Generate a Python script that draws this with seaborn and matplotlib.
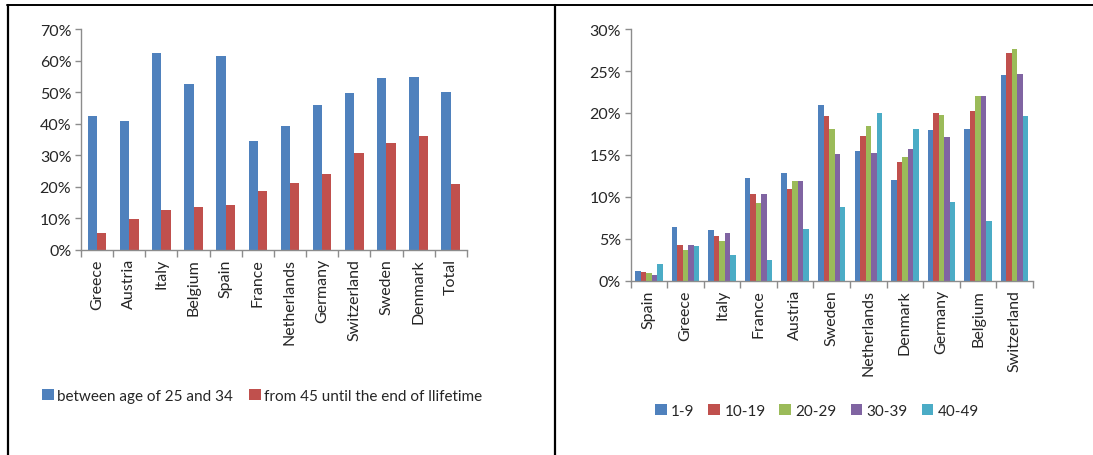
import matplotlib
matplotlib.use("Agg")
import matplotlib.pyplot as plt
from matplotlib.lines import Line2D
from matplotlib.patches import Patch
from matplotlib.ticker import PercentFormatter, FixedLocator, NullFormatter
import numpy as np
import pandas as pd
import seaborn as sns

# ---- left chart: share of life by age phase ----
countries_a = ["Greece", "Austria", "Italy", "Belgium", "Spain", "France",
               "Netherlands", "Germany", "Switzerland", "Sweden", "Denmark", "Total"]
age_25_34 = [42.3, 40.8, 62.5, 52.5, 61.5, 34.4, 39.4, 46.0, 49.7, 54.5, 54.8, 50.2]
from_45 = [5.2, 9.8, 12.5, 13.5, 14.2, 18.8, 21.3, 24.0, 30.6, 33.8, 36.1, 21.0]
series_a = ["between age of 25 and 34", "from 45 until the end of llifetime"]

# ---- right chart: distribution by size class ----
countries_b = ["Spain", "Greece", "Italy", "France", "Austria", "Sweden",
               "Netherlands", "Denmark", "Germany", "Belgium", "Switzerland"]
s_1_9 = [1.2, 6.4, 6.0, 12.2, 12.8, 21.0, 15.5, 12.0, 18.0, 18.1, 24.5]
s_10_19 = [1.1, 4.3, 5.3, 10.4, 11.0, 19.6, 17.2, 14.2, 20.0, 20.2, 27.1]
s_20_29 = [0.9, 3.7, 4.7, 9.3, 11.9, 18.1, 18.4, 14.8, 19.8, 22.0, 27.6]
s_30_39 = [0.7, 4.3, 5.7, 10.4, 11.9, 15.1, 15.2, 15.7, 17.1, 22.0, 24.6]
s_40_49 = [2.0, 4.2, 3.1, 2.5, 6.2, 8.8, 20.0, 18.1, 9.4, 7.1, 19.6]
series_b = ["1-9", "10-19", "20-29", "30-39", "40-49"]

colors_a = ["#4F81BD", "#C0504D"]
colors_b = ["#4F81BD", "#C0504D", "#9BBB59", "#8064A2", "#4BACC6"]

sns.set_style("white")
plt.rcParams["font.family"] = ["Lato", "DejaVu Sans"]
TXT = "#262626"
AX = "#8C8C8C"

df_a = pd.DataFrame({
    "country": countries_a * 2,
    "series": [series_a[0]] * len(countries_a) + [series_a[1]] * len(countries_a),
    "value": age_25_34 + from_45,
})
values_b = [s_1_9, s_10_19, s_20_29, s_30_39, s_40_49]
df_b = pd.DataFrame({
    "country": countries_b * len(series_b),
    "series": [s for s in series_b for _ in countries_b],
    "value": [v for vals in values_b for v in vals],
})

fig = plt.figure(figsize=(10.93, 4.56), dpi=100)
ax1 = fig.add_axes([0.0741, 0.450, 0.353, 0.484])
ax2 = fig.add_axes([0.577, 0.382, 0.368, 0.552])


def style_axis(ax, n, ymax, step, pad_x):
    ax.set_xlim(-0.5, n - 0.5)
    ax.set_ylim(0, ymax)
    ax.set_yticks(np.arange(0, ymax + 0.01, step))
    ax.yaxis.set_major_formatter(PercentFormatter(decimals=0))
    ax.xaxis.set_minor_locator(FixedLocator(np.arange(-0.5, n, 1.0)))
    ax.xaxis.set_minor_formatter(NullFormatter())
    ax.tick_params(axis="x", which="major", length=0, labelrotation=90,
                   labelsize=11.5, labelcolor=TXT, pad=pad_x)
    ax.tick_params(axis="x", which="minor", length=5, color=AX, width=1,
                   direction="out", bottom=True)
    ax.tick_params(axis="y", length=4, color=AX, width=1, direction="out",
                   left=True, labelsize=11.5, labelcolor=TXT, pad=3)
    for side in ["top", "right"]:
        ax.spines[side].set_visible(False)
    for side in ["left", "bottom"]:
        ax.spines[side].set_color(AX)
        ax.spines[side].set_linewidth(1)
    ax.set_xlabel("")
    ax.set_ylabel("")


sns.barplot(data=df_a, x="country", y="value", hue="series", palette=colors_a,
            width=0.58, saturation=1, linewidth=0, ax=ax1, legend=False)
style_axis(ax1, len(countries_a), 70, 10, 6)

sns.barplot(data=df_b, x="country", y="value", hue="series", palette=colors_b,
            width=0.75, saturation=1, linewidth=0, ax=ax2, legend=False)
style_axis(ax2, len(countries_b), 30, 5, 6)

h_a = [Patch(facecolor=c, edgecolor="none") for c in colors_a]
fig.legend(h_a, series_a, loc="center", bbox_to_anchor=(262 / 1093, 1 - 397 / 456),
           ncol=2, frameon=False, fontsize=11, handlelength=0.75, handleheight=0.75,
           handletextpad=0.2, columnspacing=1.1, labelcolor=TXT)

h_b = [Patch(facecolor=c, edgecolor="none") for c in colors_b]
fig.legend(h_b, series_b, loc="center", bbox_to_anchor=(817 / 1093, 1 - 412 / 456),
           ncol=5, frameon=False, fontsize=11, handlelength=0.75, handleheight=0.75,
           handletextpad=0.3, columnspacing=0.9, labelcolor=TXT)

# panel frame
W, H = 1093, 456
fig.add_artist(Line2D([7 / W, 1.0], [1 - 6 / H] * 2, color="black", lw=1.4,
                      transform=fig.transFigure))
fig.add_artist(Line2D([7.5 / W] * 2, [0, 1 - 6 / H], color="black", lw=1.6,
                      transform=fig.transFigure))
fig.add_artist(Line2D([554.5 / W] * 2, [0, 1 - 6 / H], color="black", lw=1.6,
                      transform=fig.transFigure))

fig.savefig("out.png", dpi=100, facecolor="white")
